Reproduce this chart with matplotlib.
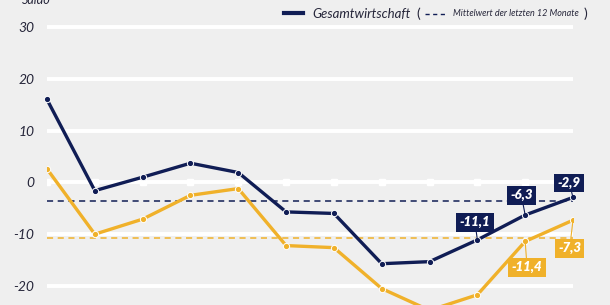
import numpy as np
from matplotlib import pyplot as plt

# Werte
monate = np.arange(12)
gesamt = [16.0, -1.6, 1.0, 3.7, 1.9, -5.7, -6.0, -15.7, -15.3, -11.1, -6.3, -2.9]
zweite = [2.6, -10.0, -7.1, -2.5, -1.2, -12.2, -12.6, -20.5, -24.7, -21.7, -11.4, -7.3]
mittel_gesamt = -3.6
mittel_zweite = -10.7
y_ticks = [30, 20, 10, 0, -10, -20]

# Beschriftete Punkte: (index, text, versatz x, versatz y)
labels_gesamt = [(9, '-11,1', -0.05, 3.4), (10, '-6,3', -0.08, 3.8), (11, '-2,9', -0.08, 2.8)]
labels_zweite = [(10, '-11,4', 0.04, -5.0), (11, '-7,3', -0.07, -5.4)]

NAVY = '#101d55'
GELB = '#f0b12a'
FOND = '#efefef'

plt.rcParams['font.family'] = ['Lato', 'DejaVu Sans']

fig = plt.figure(figsize=(6.1, 3.05), dpi=100, facecolor=FOND)
ax = fig.add_axes([47 / 610, 0, (573 - 47) / 610, 1])
ax.set_facecolor(FOND)
ax.set_xlim(0, 11)
ax.set_ylim(-23.67, 35.2)

for y in y_ticks:
    ax.axhline(y, color='white', lw=2.8, zorder=1)

# kleine weisse Markierungen auf der Nulllinie
ax.plot(monate, np.zeros(12), ls='none', marker='s', ms=5, color='white', zorder=1)

ax.axhline(mittel_gesamt, color=NAVY, lw=1.1, ls=(0, (4, 3)), zorder=2)
ax.axhline(mittel_zweite, color=GELB, lw=1.1, ls=(0, (4, 3)), zorder=2)

ax.plot(monate, zweite, color=GELB, lw=2.4, marker='o', ms=4.5,
        mec='white', mew=0.7, zorder=3, clip_on=True)
ax.plot(monate, gesamt, color=NAVY, lw=2.4, marker='o', ms=4.5,
        mec='white', mew=0.7, zorder=4, clip_on=False)

for i, txt, dx, dy in labels_gesamt:
    ax.annotate(txt, (monate[i], gesamt[i]), xytext=(monate[i] + dx, gesamt[i] + dy),
                ha='center', va='center', color='white', fontsize=9.5, fontweight='heavy',
                fontstyle='italic', zorder=6,
                bbox=dict(boxstyle='square,pad=0.25', fc=NAVY, ec='none'),
                arrowprops=dict(arrowstyle='-', color=NAVY, lw=0.8, shrinkA=0, shrinkB=0))

for i, txt, dx, dy in labels_zweite:
    ax.annotate(txt, (monate[i], zweite[i]), xytext=(monate[i] + dx, zweite[i] + dy),
                ha='center', va='center', color='white', fontsize=9.5, fontweight='heavy',
                fontstyle='italic', zorder=6,
                bbox=dict(boxstyle='square,pad=0.25', fc=GELB, ec='none'),
                arrowprops=dict(arrowstyle='-', color=GELB, lw=0.8, shrinkA=0, shrinkB=0))

ax.set_yticks(y_ticks)
ax.set_yticklabels([str(v) for v in y_ticks], fontstyle='italic', color='#26263a', fontsize=10)
ax.tick_params(axis='y', length=0, pad=9)
ax.set_xticks([])
for s in ax.spines.values():
    s.set_visible(False)

# Legende oben
fig.text(0.036, 1.0, 'Saldo', fontsize=9, fontstyle='italic', color='#26263a', va='center')
fig.add_artist(plt.Line2D([284 / 610, 303 / 610], [1 - 13 / 305] * 2, color=NAVY, lw=3))
fig.text(312 / 610, 1 - 14 / 305, 'Gesamtwirtschaft', fontsize=9.5, fontstyle='italic',
         color='#26263a', va='center')
fig.text(416 / 610, 1 - 14 / 305, '(', fontsize=10, color='#26263a', va='center')
fig.add_artist(plt.Line2D([425 / 610, 446 / 610], [1 - 14 / 305] * 2, color=NAVY, lw=1,
                          ls=(0, (3, 2.5))))
fig.text(453 / 610, 1 - 14 / 305, 'Mittelwert der letzten 12 Monate', fontsize=6.5,
         fontstyle='italic', color='#26263a', va='center')
fig.text(584 / 610, 1 - 14 / 305, ')', fontsize=10, color='#26263a', va='center')

fig.savefig('out.png', dpi=100, facecolor=FOND)
